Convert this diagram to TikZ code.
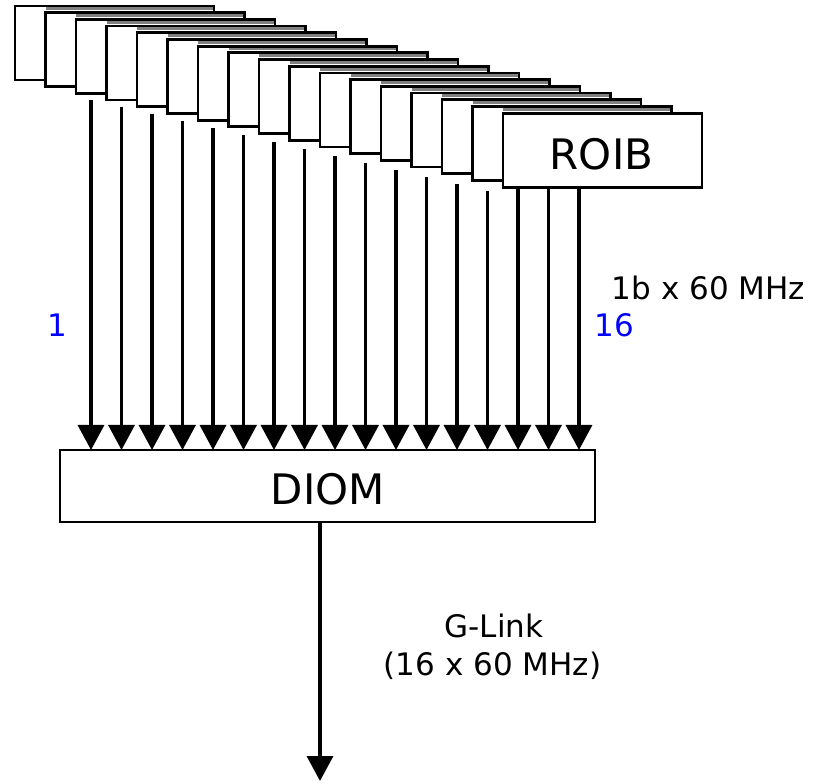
\documentclass[tikz,border=0pt]{standalone}
\usepackage{fontspec}
\setmainfont{DejaVu Sans}
\usetikzlibrary{arrows.meta,calc}
\begin{document}
\begin{tikzpicture}[x=1pt,y=-1pt,
  stackbox/.style={draw=black, fill=white, line width=2.8pt, minimum width=199pt, minimum height=74pt, inner sep=0pt, outer sep=0pt, anchor=north west},
  mainbox/.style={draw=black, fill=white, line width=2.8pt, inner sep=0pt, outer sep=0pt},
  sig/.style={line width=3.4pt, -{Triangle[width=26pt,length=25pt]}},
  band/.style={fill=black!50},
  lbl/.style={anchor=base, inner sep=0pt, font=\fontsize{31}{37}\selectfont},
  idx/.style={anchor=base, inner sep=0pt, text=blue, font=\fontsize{31}{37}\selectfont},
  big/.style={anchor=base, inner sep=0pt, font=\fontsize{42}{50}\selectfont}]
\useasboundingbox[fill=white] (0,0) rectangle (814,783);
% DIOM
\node[mainbox, minimum width=535pt, minimum height=72pt] (diom) at (327.5,486) {};
% signal arrows (drawn first, covered by the stacked boxes)
\foreach \i in {0,...,16} {
  \pgfmathsetmacro{\sx}{91+30.5*\i}
  \pgfmathsetmacro{\sy}{\i<14 ? 100+7*\i : 150}
  \coordinate (s\i) at (\sx,\sy);
  \draw[sig] (s\i) -- (s\i |- diom.north);
}
% stacked ROIB boxes
\foreach \j in {0,...,16} {
  \node[stackbox] (b\j) at ({15+30.5*\j},{6+6.7*\j}) {};
  \ifnum\j<16
    \fill[band] ($(b\j.north west)+(30.5,1.4)$) rectangle ($(b\j.north east)+(-1.4,4.3)$);
  \fi
}
% texts
\node[big] (troib) at (601.5,170) {ROIB};
\node[big] (tdiom) at (328,504) {DIOM};
\node[lbl] (trate) at (708.5,300) {1b x 60 MHz};
\node[idx] (tone) at (57,337) {1};
\node[idx] (tsixteen) at (614.5,337) {16};
\node[lbl] (tglink) at (494,637) {G-Link};
\node[lbl] (tglinkb) at (492.5,675) {(16 x 60 MHz)};
% output arrow
\coordinate (out) at (320,781);
\draw[sig] (diom.south -| out) -- (out);
\end{tikzpicture}
\end{document}
